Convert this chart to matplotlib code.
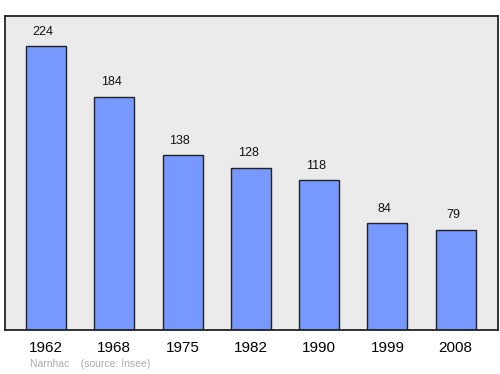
import matplotlib.pyplot as plt

plt.rcParams["font.family"] = ["Liberation Sans", "DejaVu Sans"]

# Population of Narnhac by census year
years = ["1962", "1968", "1975", "1982", "1990", "1999", "2008"]
population = [224, 184, 138, 128, 118, 84, 79]

fig = plt.figure(figsize=(5, 3.74), dpi=100)
ax = fig.add_axes([0.01, 0.1176, 0.986, 0.8396])
ax.set_facecolor("#ebebeb")

x = range(len(years))
ax.bar(x, population, width=0.585, color="#7799ff", edgecolor="#222222", linewidth=1, zorder=2)

for xi, val in zip(x, population):
    ax.annotate(str(val), (xi - 0.04, val), xytext=(0, 6), textcoords="offset points",
                ha="center", va="bottom", fontsize=9, color="#111111")

ax.set_xlim(-0.6, 6.62)
ax.set_ylim(0, 247.6)
ax.set_yticks([])
ax.set_xticks(list(x))
ax.set_xticklabels(years, fontsize=11)
ax.tick_params(axis="x", length=0, pad=8)
for s in ax.spines.values():
    s.set_linewidth(1.3)
    s.set_color("#222222")

fig.text(0.06, 0.018, "Narnhac    (source: Insee)", fontsize=7.5, color="#aaaaaa")

plt.savefig("out.png", dpi=100)
